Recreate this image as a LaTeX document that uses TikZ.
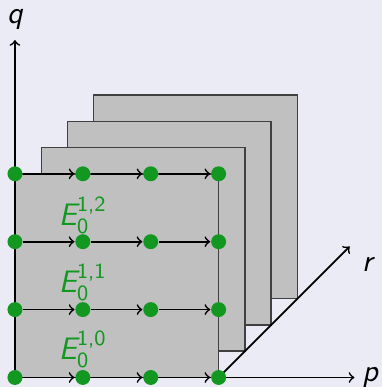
\documentclass[tikz,border=0pt]{standalone}
\usepackage{amsmath}
\usepackage{fontspec}
\definecolor{slidebg}{RGB}{235,235,245}
\definecolor{planegray}{RGB}{192,192,192}
\definecolor{dotgreen}{RGB}{18,152,32}
\begin{document}
\begin{tikzpicture}[font=\sffamily\fontsize{13}{15}\selectfont, >=to, line width=0.7pt,
  plane/.style={fill=planegray, draw=black!75, line width=0.6pt},
  axis/.style={->, black},
  pt/.style={circle, fill=dotgreen, inner sep=0pt, minimum size=0.22cm},
  lbl/.style={text=dotgreen, inner sep=0pt}]
  \fill[slidebg] (-0.22,-0.14) rectangle (5.40,5.56);
  \useasboundingbox (-0.22,-0.14) rectangle (5.40,5.56);
  % planes, back to front
  \draw[plane] (1.16,1.16) rectangle (4.16,4.16);
  \draw[plane] (0.77,0.77) rectangle (3.77,3.77);
  \draw[plane] (0.39,0.39) rectangle (3.39,3.39);
  \draw[plane] (0,0) rectangle (3,3);
  % axes
  \coordinate (o) at (0,0);
  \coordinate (c) at (3,0);
  \coordinate (pend) at (5.0,0);
  \coordinate (qend) at (0,4.97);
  \coordinate (rend) at (4.93,1.93);
  \draw[axis] (o) -- (pend);
  \draw[axis] (o) -- (qend);
  \draw[axis] (c) -- (rend);
  \node[anchor=west, inner sep=1pt] (plab) at (5.07,0) {\itshape p};
  \node (qlab) at (0,5.27) {\itshape q};
  \node (rlab) at (5.19,1.66) {\itshape r};
  % grid points
  \foreach \j in {0,...,3}
    \foreach \i in {0,...,3}
      \node[pt] (g\i\j) at (\i,\j) {};
  \foreach \j in {0,...,3}
    \foreach \i/\k in {0/1,1/2,2/3}
      \draw[->] (g\i\j) -- (g\k\j);
  % terms
  \node[lbl] (e0) at (1.0,0.41) {$\text{\itshape E}^{\text{1,0}}_{\text{0}}$};
  \node[lbl] (e1) at (1.0,1.40) {$\text{\itshape E}^{\text{1,1}}_{\text{0}}$};
  \node[lbl] (e2) at (1.0,2.39) {$\text{\itshape E}^{\text{1,2}}_{\text{0}}$};
\end{tikzpicture}
\end{document}
